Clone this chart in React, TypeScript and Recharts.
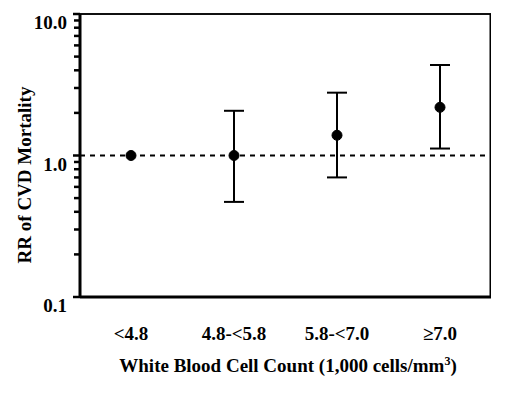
import React from 'react';
import {
  ComposedChart,
  Line,
  XAxis,
  YAxis,
  ErrorBar,
  ReferenceLine,
  CartesianGrid,
} from 'recharts';

const categories = ['<4.8', '4.8-<5.8', '5.8-<7.0', '≥7.0'];
const rrValues = [1.0, 1.0, 1.39, 2.19];
const ciLower: (number | null)[] = [null, 0.47, 0.7, 1.12];
const ciUpper: (number | null)[] = [null, 2.07, 2.78, 4.36];
const majorTicks = [0.1, 1, 10];
const majorTickLabels = ['0.1', '1.0', '10.0'];
const minorTicks = [0.2, 0.3, 0.4, 0.5, 0.6, 0.7, 0.8, 0.9, 2, 3, 4, 5, 6, 7, 8, 9];
const yAxisTitle = 'RR of CVD Mortality';
const xAxisTitle = 'White Blood Cell Count (1,000 cells/mm';

const data = categories.map((cat, i) => ({
  cat,
  rr: rrValues[i],
  err:
    ciLower[i] == null || ciUpper[i] == null
      ? null
      : [rrValues[i] - (ciLower[i] as number), (ciUpper[i] as number) - rrValues[i]],
}));

const allYTicks = [...majorTicks, ...minorTicks].sort((a, b) => a - b);

const FONT = '"Liberation Serif", "Times New Roman", serif';

const YTick = (props: any) => {
  const { x, y, payload } = props;
  const v = payload.value;
  const mi = majorTicks.findIndex((m) => Math.abs(m - v) < 1e-9);
  const isMajor = mi >= 0;
  return (
    <g>
      <line x1={x - (isMajor ? 7 : 6)} x2={x} y1={y} y2={y} stroke="#000" strokeWidth={2.5} />
      {isMajor && (
        <text
          x={x - 13}
          y={y + 15}
          textAnchor="end"
          fontFamily={FONT}
          fontWeight="bold"
          fontSize={19}
          fill="#000"
        >
          {majorTickLabels[mi]}
        </text>
      )}
    </g>
  );
};

const XTick = (props: any) => {
  const { x, y, payload } = props;
  return (
    <text
      x={x}
      y={y + 43}
      textAnchor="middle"
      fontFamily={FONT}
      fontWeight="bold"
      fontSize={19}
      fill="#000"
    >
      {payload.value}
    </text>
  );
};

const XTitle = () => (
  <text
    x={288}
    y={372}
    textAnchor="middle"
    fontFamily={FONT}
    fontWeight="bold"
    fontSize={19}
    fill="#000"
  >
    {xAxisTitle}
    <tspan dy={-7} fontSize={12}>3</tspan>
    <tspan dy={7}>)</tspan>
  </text>
);

const YTitle = () => (
  <text
    x={31}
    y={175}
    transform="rotate(-90, 31, 175)"
    textAnchor="middle"
    fontFamily={FONT}
    fontWeight="bold"
    fontSize={19}
    fill="#000"
  >
    {yAxisTitle}
  </text>
);

export default function App() {
  return (
    <div style={{ position: 'absolute', left: 0, top: 0, width: 508, height: 395, background: '#fff' }}>
      <ComposedChart
        width={508}
        height={395}
        data={data}
        margin={{ top: 14, right: 17, bottom: 0, left: 0 }}
      >
        <CartesianGrid
          stroke="#000"
          strokeWidth={1.5}
          horizontal={true}
          vertical={true}
          horizontalCoordinatesGenerator={(p: any) => [p.offset.top]}
          verticalCoordinatesGenerator={(p: any) => [p.offset.left + p.offset.width - 0.75]}
        />
        <XAxis
          dataKey="cat"
          type="category"
          height={98}
          padding={{ left: 51, right: 51 }}
          axisLine={{ stroke: '#000', strokeWidth: 3 }}
          tickLine={false}
          tickSize={0}
          tickMargin={0}
          tick={<XTick />}
          interval={0}
          label={{ content: () => <XTitle /> }}
        />
        <YAxis
          scale="log"
          domain={[0.1, 10]}
          allowDataOverflow
          ticks={allYTicks}
          interval={0}
          width={80}
          axisLine={{ stroke: '#000', strokeWidth: 3 }}
          tickLine={false}
          tickSize={0}
          tickMargin={0}
          tick={<YTick />}
          label={{ content: () => <YTitle /> }}
        />
        <ReferenceLine y={10} stroke="#000" strokeWidth={1.5} />
        <ReferenceLine y={1} stroke="#000" strokeWidth={2} strokeDasharray="5 5" />
        <Line
          dataKey="rr"
          stroke="none"
          isAnimationActive={false}
          dot={{ r: 5, fill: '#000', stroke: '#000', strokeWidth: 1 }}
          activeDot={false}
        >
          <ErrorBar dataKey="err" width={10} stroke="#000" strokeWidth={2} direction="y" />
        </Line>
      </ComposedChart>
    </div>
  );
}
